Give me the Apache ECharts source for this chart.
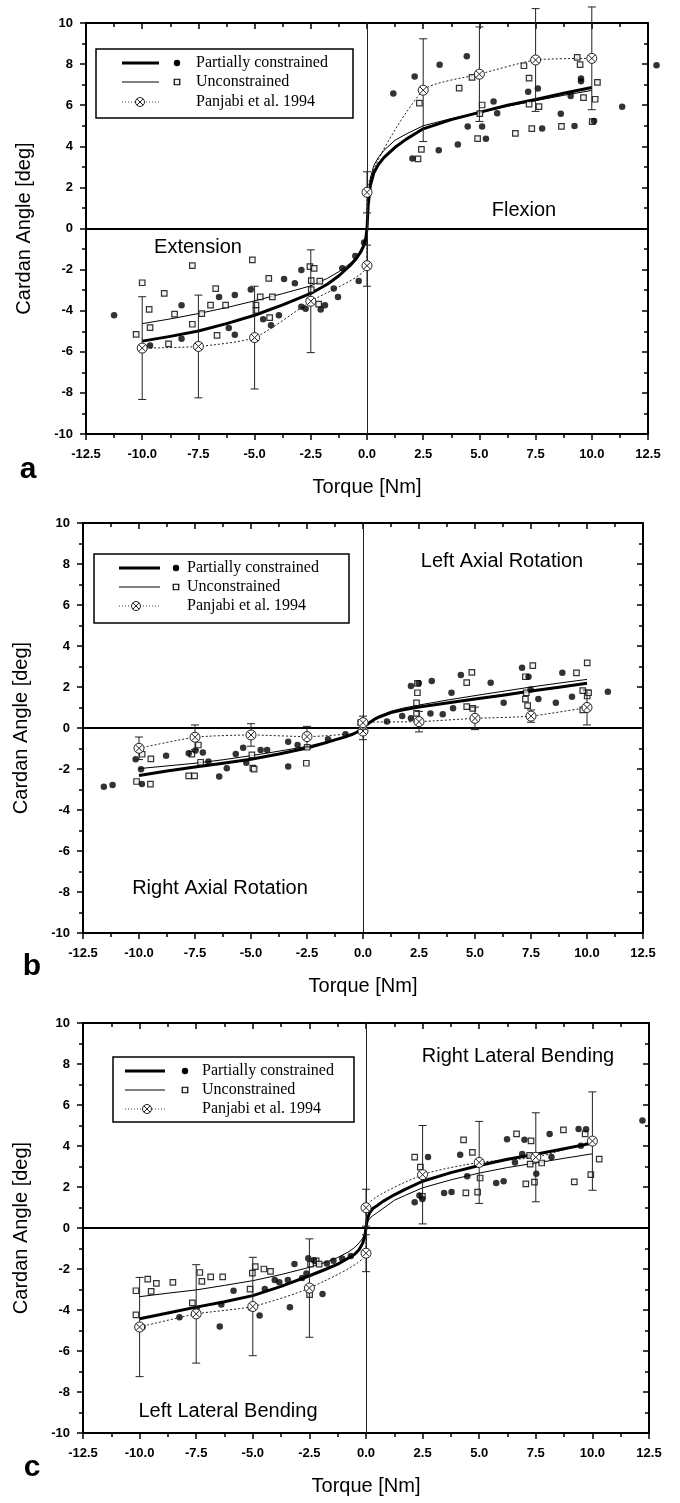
<!DOCTYPE html>
<html><head><meta charset="utf-8">
<script src="https://cdn.jsdelivr.net/npm/echarts@6/dist/echarts.min.js"></script>
<style>html,body{margin:0;padding:0;background:#fff}#c{width:680px;height:1503px}</style>
</head><body><div id="c"></div>
<script>
// ---------- axes ----------
const xMin = -12.5, xMax = 12.5, xStep = 2.5;
const yMin = -10, yMax = 10, yStep = 2;
const xTitle = 'Torque [Nm]';
const yTitle = 'Cardan Angle [deg]';
const legendNames = ['Partially constrained', 'Unconstrained', 'Panjabi et al. 1994'];

const fitX = [-10,-8.75,-7.5,-6.25,-5,-3.75,-2.5,-1.75,-1.25,-0.75,-0.5,-0.3,-0.15,-0.05,0,0.05,0.15,0.3,0.5,0.75,1.25,1.75,2.5,3.75,5,6.25,7.5,8.75,10];

// ---------- panel a : Flexion / Extension ----------
const aPartialFit = [-5.48,-5.25,-4.99,-4.63,-4.22,-3.72,-3.16,-2.7,-2.3,-1.8,-1.5,-1.18,-0.85,-0.45,0,1.1,2.1,2.7,3.1,3.45,3.95,4.35,4.85,5.3,5.65,6.0,6.28,6.58,6.86];
const aUnconFit   = [-4.63,-4.4,-4.14,-3.85,-3.52,-3.17,-2.79,-2.42,-2.1,-1.7,-1.42,-1.1,-0.8,-0.4,0,1.3,2.45,3.05,3.45,3.8,4.3,4.6,5.0,5.35,5.65,5.95,6.22,6.48,6.72];
const aPanX = [-10,-7.5,-5,-2.5,0,0,2.5,5,7.5,10];
const aPanY = [-5.82,-5.74,-5.31,-3.54,-1.81,1.76,6.73,7.51,8.2,8.28];
const aPanErr = [2.5,2.5,2.5,2.5,1.0,1.0,2.5,2.3,2.5,2.5];
const aPartialPts = [[-11.25,-4.22],[-9.65,-5.69],[-8.25,-3.73],[-8.25,-5.36],[-6.58,-3.33],[-6.15,-4.84],[-5.88,-3.24],[-5.88,-5.17],[-5.17,-2.97],[-4.62,-4.42],[-4.27,-4.71],[-3.92,-4.22],[-3.69,-2.46],[-3.21,-2.67],[-2.92,-2.02],[-2.92,-3.81],[-2.73,-3.9],[-2.06,-3.94],[-1.87,-3.73],[-1.48,-2.92],[-1.29,-3.33],[-1.1,-1.94],[-0.52,-1.34],[-0.37,-2.56],[-0.13,-0.68],[1.17,6.57],[2.12,7.4],[2.02,3.41],[3.23,7.97],[3.19,3.81],[4.04,4.09],[4.44,8.38],[4.48,4.96],[5.12,4.96],[5.29,4.37],[5.63,6.18],[5.79,5.61],[7.17,6.65],[7.6,6.81],[7.79,4.87],[8.62,5.59],[9.06,6.45],[9.23,4.99],[9.52,7.3],[9.52,7.17],[10.1,5.23],[11.35,5.93],[12.88,7.95]];
const aUnconPts = [[-10.0,-2.64],[-9.69,-3.94],[-9.65,-4.82],[-10.27,-5.15],[-9.02,-3.16],[-8.56,-4.17],[-8.83,-5.61],[-7.77,-1.81],[-7.77,-4.66],[-7.35,-4.14],[-6.96,-3.73],[-6.73,-2.93],[-6.67,-5.2],[-6.29,-3.73],[-5.1,-1.53],[-4.94,-3.73],[-4.94,-3.98],[-4.75,-3.33],[-4.37,-2.43],[-4.33,-4.34],[-4.21,-3.33],[-2.54,-1.86],[-2.35,-1.94],[-2.48,-2.54],[-2.48,-2.97],[-2.15,-3.68],[-2.1,-2.56],[2.33,6.1],[2.27,3.39],[2.42,3.85],[4.1,6.83],[4.67,7.35],[4.92,4.37],[5.02,5.59],[5.12,6.01],[6.6,4.63],[6.98,7.92],[7.21,7.32],[7.21,6.05],[7.33,4.86],[7.65,5.93],[8.65,4.97],[9.35,8.33],[9.48,7.97],[9.63,6.37],[10.02,5.2],[10.15,6.29],[10.25,7.11]];
const aLabels = ['Extension', 'Flexion'];

// ---------- panel b : Axial rotation ----------
const bPartialFit = [-2.32,-2.1,-1.9,-1.72,-1.52,-1.27,-0.98,-0.75,-0.58,-0.42,-0.32,-0.22,-0.13,-0.06,0,0.06,0.15,0.27,0.42,0.55,0.75,0.88,1.02,1.22,1.41,1.6,1.8,1.99,2.18];
const bUnconFit   = [-1.98,-1.85,-1.72,-1.55,-1.35,-1.13,-0.9,-0.7,-0.55,-0.4,-0.3,-0.2,-0.12,-0.05,0,0.07,0.17,0.3,0.46,0.6,0.82,0.96,1.12,1.36,1.58,1.79,2.0,2.19,2.37];
const bPanX = [-10,-7.5,-5,-2.5,0,0,2.5,5,7.5,10];
const bPanY = [-0.99,-0.45,-0.34,-0.42,-0.15,0.26,0.31,0.47,0.58,1.0];
const bPanErr = [0.55,0.6,0.55,0.5,0.42,0.32,0.5,0.55,0.3,0.85];
const bPartialPts = [[-11.57,-2.86],[-11.18,-2.78],[-10.15,-1.53],[-9.91,-2.01],[-9.87,-2.73],[-8.79,-1.35],[-7.78,-1.23],[-7.48,-1.1],[-7.15,-1.19],[-6.9,-1.64],[-6.42,-2.37],[-6.08,-1.96],[-5.68,-1.27],[-5.35,-0.96],[-5.21,-1.69],[-4.57,-1.07],[-4.28,-1.07],[-3.34,-0.67],[-3.34,-1.88],[-2.92,-0.83],[-1.56,-0.55],[-0.78,-0.31],[1.07,0.32],[1.75,0.58],[2.14,2.05],[2.14,0.47],[2.49,2.18],[3.07,2.29],[3.01,0.71],[3.56,0.67],[3.95,1.72],[4.02,0.96],[4.37,2.58],[5.7,2.21],[6.28,1.23],[7.1,2.94],[7.39,2.5],[7.48,1.88],[7.83,1.41],[8.61,1.23],[8.9,2.69],[9.33,1.53],[10.93,1.77]];
const bUnconPts = [[-10.11,-2.61],[-9.86,-1.28],[-9.49,-2.74],[-9.47,-1.51],[-7.78,-2.34],[-7.52,-2.34],[-7.64,-1.27],[-7.35,-0.83],[-7.25,-1.67],[-4.96,-1.31],[-4.92,-1.96],[-4.86,-2.01],[-2.53,-1.72],[-2.49,-0.94],[-0.1,0.26],[2.43,2.18],[2.43,1.72],[2.39,1.23],[2.39,0.71],[4.63,2.21],[4.86,2.71],[4.63,1.04],[4.9,0.96],[7.25,2.5],[7.29,1.72],[7.25,1.41],[7.35,1.09],[7.58,3.04],[9.53,2.69],[9.81,1.82],[10.01,1.56],[10.07,1.72],[10.01,3.18],[9.81,0.88]];
const bLabels = ['Right Axial Rotation', 'Left Axial Rotation'];

// ---------- panel c : Lateral bending ----------
const cPartialFit = [-4.43,-4.15,-3.86,-3.6,-3.3,-2.85,-2.33,-2.0,-1.76,-1.45,-1.28,-1.05,-0.75,-0.4,0,0.4,0.72,0.95,1.1,1.3,1.62,1.9,2.28,2.7,3.05,3.35,3.6,3.87,4.14];
const cUnconFit   = [-3.35,-3.18,-3.02,-2.8,-2.57,-2.27,-1.92,-1.66,-1.44,-1.15,-0.95,-0.72,-0.5,-0.25,0,0.25,0.45,0.6,0.75,0.95,1.35,1.6,1.96,2.35,2.68,2.95,3.17,3.4,3.62];
const cPanX = [-10,-7.5,-5,-2.5,0,0,2.5,5,7.5,10];
const cPanY = [-4.83,-4.19,-3.83,-2.93,-1.23,0.99,2.6,3.2,3.45,4.24];
const cPanErr = [2.42,2.4,2.4,2.4,0.9,0.9,2.4,2.0,2.17,2.4];
const cPartialPts = [[-9.87,-4.83],[-8.24,-4.35],[-7.48,-3.95],[-6.46,-4.8],[-6.39,-3.73],[-5.85,-3.06],[-5.08,-3.9],[-4.7,-4.27],[-4.47,-2.98],[-4.03,-2.54],[-3.83,-2.65],[-3.45,-2.54],[-3.36,-3.86],[-3.16,-1.76],[-2.82,-2.44],[-2.63,-2.22],[-2.55,-1.47],[-2.3,-1.57],[-1.92,-3.22],[-1.73,-1.73],[-1.44,-1.6],[-1.05,-1.49],[-0.67,-1.36],[2.15,1.26],[2.36,1.58],[2.49,1.42],[2.74,3.46],[3.45,1.71],[3.78,1.76],[4.16,3.57],[4.47,2.52],[4.98,3.25],[5.75,2.2],[6.08,2.28],[6.23,4.33],[6.58,3.2],[6.9,3.61],[7.0,4.3],[7.52,2.65],[8.11,4.58],[8.19,3.46],[9.39,4.83],[9.72,4.82],[9.49,4.01],[12.21,5.24]];
const cUnconPts = [[-10.16,-3.06],[-10.16,-4.24],[-9.64,-2.49],[-9.49,-3.09],[-9.26,-2.7],[-8.53,-2.65],[-7.67,-3.65],[-7.34,-2.17],[-7.25,-2.6],[-6.86,-2.38],[-6.33,-2.38],[-5.12,-2.98],[-5.02,-2.2],[-4.89,-1.88],[-4.51,-2.0],[-4.22,-2.12],[-2.49,-3.25],[-2.45,-1.76],[-2.2,-1.6],[-2.07,-1.76],[2.15,3.46],[2.4,2.97],[2.49,1.55],[4.31,4.3],[4.41,1.71],[4.7,3.69],[4.93,1.75],[5.04,2.44],[6.65,4.59],[7.06,2.15],[7.23,3.54],[7.29,4.25],[7.25,3.12],[7.44,2.24],[7.76,3.17],[8.72,4.79],[9.2,2.25],[9.68,4.59],[9.93,2.6],[10.3,3.36]];
const cLabels = ['Left Lateral Bending', 'Right Lateral Bending'];

// ---------- build ----------
const SANS = '"Liberation Sans", Arial, sans-serif';
const SERIF = '"Liberation Serif", "Times New Roman", serif';
const zip = (xs, ys) => xs.map((x, i) => [x, ys[i]]);
const zip3 = (xs, ys, es) => xs.map((x, i) => [x, ys[i], es[i]]);

const panels = [
  { letter:'a', grid:{left:86, top:23, width:562, height:411},
    pFit:aPartialFit, uFit:aUnconFit, panX:aPanX, panY:aPanY, panErr:aPanErr,
    pPts:aPartialPts, uPts:aUnconPts, labels:aLabels,
    labelPos:[[198,247],[524,210]], letterPos:[28,470],
    leg:{x:96, y:49, w:257, h:69, rows:[63,82,102], l1:122, l2:159, mk:177, pm:140, tx:196} },
  { letter:'b', grid:{left:83, top:523, width:560, height:410},
    pFit:bPartialFit, uFit:bUnconFit, panX:bPanX, panY:bPanY, panErr:bPanErr,
    pPts:bPartialPts, uPts:bUnconPts, labels:bLabels,
    labelPos:[[220,888],[502,561]], letterPos:[32,967],
    leg:{x:94, y:554, w:255, h:69, rows:[568,587,606], l1:119, l2:160, mk:176, pm:136, tx:187} },
  { letter:'c', grid:{left:83, top:1023, width:566, height:410},
    pFit:cPartialFit, uFit:cUnconFit, panX:cPanX, panY:cPanY, panErr:cPanErr,
    pPts:cPartialPts, uPts:cUnconPts, labels:cLabels,
    labelPos:[[228,1411],[518,1056]], letterPos:[32,1468],
    leg:{x:113, y:1057, w:241, h:65, rows:[1071,1090,1109], l1:125, l2:165, mk:185, pm:147, tx:202} }
];

const grids = [], xAxes = [], yAxes = [], series = [], graphics = [];
const tickStyle = {color:'#000', width:1.5};

function crossedCircle(cx, cy, r) {
  const d = r * 0.7;
  return [
    {type:'circle', shape:{cx, cy, r}, style:{fill:'#fff', stroke:'#222', lineWidth:1}},
    {type:'line', shape:{x1:cx-d, y1:cy-d, x2:cx+d, y2:cy+d}, style:{stroke:'#222', lineWidth:1}},
    {type:'line', shape:{x1:cx+d, y1:cy-d, x2:cx-d, y2:cy+d}, style:{stroke:'#222', lineWidth:1}}
  ];
}

panels.forEach((p, i) => {
  grids.push(p.grid);
  const baseX = {gridIndex:i, type:'value', min:xMin, max:xMax, interval:xStep,
    splitLine:{show:false},
    axisLine:{onZero:false, lineStyle:{color:'#000', width:2}},
    minorTick:{show:true, splitNumber:2, length:4, lineStyle:tickStyle}};
  xAxes.push(Object.assign({}, baseX, {position:'bottom',
    axisTick:{inside:false, length:6, lineStyle:tickStyle},
    axisLabel:{margin:14, color:'#000', fontWeight:'bold', fontSize:13, fontFamily:SANS,
      showMinLabel:true, showMaxLabel:true, formatter:v => v.toFixed(1)},
    name:xTitle, nameLocation:'middle', nameGap:43,
    nameTextStyle:{fontSize:20, color:'#000', fontFamily:SANS}}));
  xAxes.push(Object.assign({}, baseX, {position:'top',
    axisTick:{inside:true, length:6, lineStyle:tickStyle}, axisLabel:{show:false}}));
  const baseY = {gridIndex:i, type:'value', min:yMin, max:yMax, interval:yStep,
    splitLine:{show:false},
    axisLine:{onZero:false, lineStyle:{color:'#000', width:2}},
    minorTick:{show:true, splitNumber:2, length:4, lineStyle:tickStyle}};
  yAxes.push(Object.assign({}, baseY, {position:'left',
    axisTick:{inside:false, length:6, lineStyle:tickStyle},
    axisLabel:{margin:13, color:'#000', fontWeight:'bold', fontSize:13, fontFamily:SANS,
      showMinLabel:true, showMaxLabel:true},
    name:yTitle, nameLocation:'middle', nameGap:52,
    nameTextStyle:{fontSize:20, color:'#000', fontFamily:SANS}}));
  yAxes.push(Object.assign({}, baseY, {position:'right',
    axisTick:{inside:true, length:6, lineStyle:tickStyle}, axisLabel:{show:false}}));

  const xi = 2*i, yi = 2*i;
  // zero reference lines
  series.push({type:'line', xAxisIndex:xi, yAxisIndex:yi, data:[], silent:true, z:1,
    markLine:{silent:true, symbol:'none', label:{show:false}, animation:false,
      data:[{yAxis:0, lineStyle:{color:'#000', width:2, type:'solid'}},
            {xAxis:0, lineStyle:{color:'#222', width:1, type:'solid'}}]}});
  // Panjabi dotted connecting line
  series.push({name:legendNames[2], type:'line', xAxisIndex:xi, yAxisIndex:yi,
    data:zip(p.panX, p.panY), showSymbol:false, smooth:0.2, z:2,
    lineStyle:{color:'#222', width:1, type:[2,2]}});
  // fitted curves
  series.push({name:legendNames[1], type:'line', xAxisIndex:xi, yAxisIndex:yi,
    data:zip(fitX, p.uFit), showSymbol:false, smooth:false, z:3,
    lineStyle:{color:'#000', width:1}});
  series.push({name:legendNames[0], type:'line', xAxisIndex:xi, yAxisIndex:yi,
    data:zip(fitX, p.pFit), showSymbol:false, smooth:false, z:4,
    lineStyle:{color:'#000', width:3, join:'round'}});
  // scatter points
  series.push({name:legendNames[1], type:'scatter', xAxisIndex:xi, yAxisIndex:yi, clip:false,
    data:p.uPts, symbol:'rect', symbolSize:5.5, z:5,
    itemStyle:{color:'#f0f0f0', borderColor:'#000', borderWidth:1.2}});
  series.push({name:legendNames[0], type:'scatter', xAxisIndex:xi, yAxisIndex:yi, clip:false,
    data:p.pPts, symbol:'circle', symbolSize:6.5, z:6, itemStyle:{color:'#000'}});
  // Panjabi markers with error bars
  series.push({name:legendNames[2], type:'custom', xAxisIndex:xi, yAxisIndex:yi, clip:false, z:7,
    data:zip3(p.panX, p.panY, p.panErr), encode:{x:0, y:1},
    renderItem:(params, api) => {
      const x = api.value(0), y = api.value(1), e = api.value(2);
      const c = api.coord([x, y]), t = api.coord([x, y + e]), b = api.coord([x, y - e]);
      const st = {stroke:'#222', lineWidth:1};
      return {type:'group', children:[
        {type:'line', shape:{x1:c[0], y1:t[1], x2:c[0], y2:b[1]}, style:st},
        {type:'line', shape:{x1:c[0]-4, y1:t[1], x2:c[0]+4, y2:t[1]}, style:st},
        {type:'line', shape:{x1:c[0]-4, y1:b[1], x2:c[0]+4, y2:b[1]}, style:st}
      ].concat(crossedCircle(c[0], c[1], 5))};
    }});

  // legend box
  const L = p.leg;
  const g = [];
  g.push({type:'rect', shape:{x:L.x, y:L.y, width:L.w, height:L.h}, style:{fill:'#fff', stroke:'#000', lineWidth:1.5}});
  g.push({type:'line', shape:{x1:L.l1, y1:L.rows[0], x2:L.l2, y2:L.rows[0]}, style:{stroke:'#000', lineWidth:3}});
  g.push({type:'circle', shape:{cx:L.mk, cy:L.rows[0], r:3.2}, style:{fill:'#000'}});
  g.push({type:'line', shape:{x1:L.l1, y1:L.rows[1], x2:L.l2, y2:L.rows[1]}, style:{stroke:'#000', lineWidth:1}});
  g.push({type:'rect', shape:{x:L.mk-2.75, y:L.rows[1]-2.75, width:5.5, height:5.5}, style:{fill:'#f0f0f0', stroke:'#000', lineWidth:1.2}});
  g.push({type:'line', shape:{x1:L.l1, y1:L.rows[2], x2:L.l2, y2:L.rows[2]}, style:{stroke:'#444', lineWidth:1, lineDash:[1,2]}});
  crossedCircle(L.pm, L.rows[2], 4.5).forEach(el => g.push(el));
  legendNames.forEach((nm, k) => g.push({type:'text', x:L.tx, y:L.rows[k],
    style:{text:nm, fill:'#000', font:'16px ' + SERIF, verticalAlign:'middle', align:'left'}}));
  graphics.push({type:'group', z:100, children:g});

  // quadrant labels
  p.labels.forEach((t, k) => graphics.push({type:'text', z:100, x:p.labelPos[k][0], y:p.labelPos[k][1],
    style:{text:t, fill:'#000', font:'20px ' + SANS, align:'center', verticalAlign:'middle'}}));
  // panel letter
  graphics.push({type:'text', z:100, x:p.letterPos[0], y:p.letterPos[1],
    style:{text:p.letter, fill:'#000', font:'bold 30px ' + SANS, align:'center', verticalAlign:'middle'}});
});

const chart = echarts.init(document.getElementById('c'), null, {renderer:'canvas'});
chart.setOption({
  animation:false,
  backgroundColor:'#fff',
  grid:grids, xAxis:xAxes, yAxis:yAxes, series:series, graphic:graphics
});
</script></body></html>
